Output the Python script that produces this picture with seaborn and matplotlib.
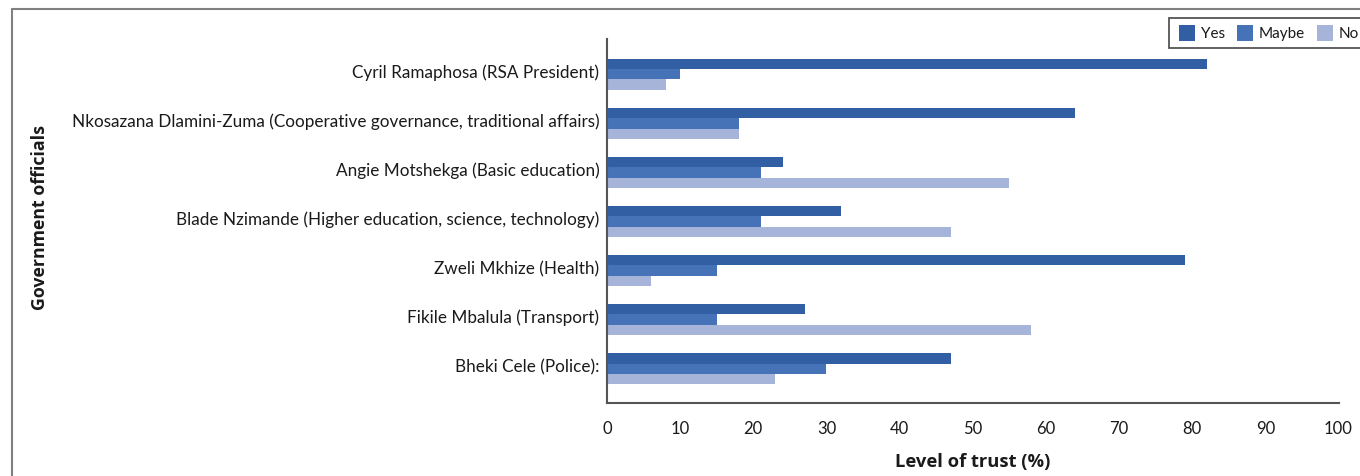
import matplotlib
matplotlib.use("Agg")
import matplotlib.pyplot as plt
from matplotlib.lines import Line2D
from matplotlib.patches import Rectangle
from matplotlib.transforms import ScaledTranslation
import seaborn as sns
import pandas as pd

officials = [
    "Cyril Ramaphosa (RSA President)",
    "Nkosazana Dlamini-Zuma (Cooperative governance, traditional affairs)",
    "Angie Motshekga (Basic education)",
    "Blade Nzimande (Higher education, science, technology)",
    "Zweli Mkhize (Health)",
    "Fikile Mbalula (Transport)",
    "Bheki Cele (Police):",
]
yes_vals = [82, 64, 24, 32, 79, 27, 47]
maybe_vals = [10, 18, 21, 21, 15, 15, 30]
no_vals = [8, 18, 55, 47, 6, 58, 23]
responses = ["Yes", "Maybe", "No"]
colors = ["#325FA3", "#4672B8", "#A6B4D9"]
xticks = list(range(0, 101, 10))

rows = []
for name, y, m, n in zip(officials, yes_vals, maybe_vals, no_vals):
    rows += [(name, "Yes", y), (name, "Maybe", m), (name, "No", n)]
df = pd.DataFrame(rows, columns=["official", "response", "value"])

sns.set_theme(style="white")
plt.rcParams["font.family"] = ["Lato", "DejaVu Sans"]

W, H = 1360, 477
fig = plt.figure(figsize=(W / 100, H / 100), dpi=100)


def fx(px):
    return px / W


def fy(py):
    return 1 - py / H


ax = fig.add_axes([fx(607), fy(404), (1338.5 - 607) / W, (404 - 40) / H])

sns.barplot(data=df, y="official", x="value", hue="response", orient="h",
            hue_order=responses, palette=colors, width=0.63, saturation=1,
            linewidth=0, ax=ax, legend=False)

ax.set_xlim(0, 100)
ax.set_ylim(6.70, -0.72)
ax.set_xticks(xticks)
ax.set_xticklabels([str(t) for t in xticks], fontsize=12, color="#1a1a1a")
ax.tick_params(axis="x", direction="out", length=7, width=1.2, color="#555555", pad=5)
ax.tick_params(axis="y", length=0, labelsize=12.3, pad=5.5)
shift = ScaledTranslation(0, 0.04, fig.dpi_scale_trans)
for lbl in ax.get_yticklabels():
    lbl.set_color("#1a1a1a")
    lbl.set_transform(lbl.get_transform() + shift)

for side in ["top", "right"]:
    ax.spines[side].set_visible(False)
for side in ["left", "bottom"]:
    ax.spines[side].set_color("#555555")
    ax.spines[side].set_linewidth(1.5)

ax.set_ylabel("")
ax.set_xlabel("")
fig.text(fx(973), fy(462), "Level of trust (%)", ha="center", va="center",
         fontsize=13.2, fontweight="bold", family=["Open Sans", "DejaVu Sans"],
         color="#1a1a1a")
fig.text(fx(40), fy(218), "Government officials", ha="center", va="center",
         rotation=90, fontsize=12.8, fontweight="bold",
         family=["Open Sans", "DejaVu Sans"], color="#1a1a1a")

# legend box, running off the right edge of the page
fig.add_artist(Rectangle((fx(1169), fy(49)), fx(1400) - fx(1169), fy(19) - fy(49),
                         transform=fig.transFigure, facecolor="white",
                         edgecolor="#555555", linewidth=1.3))
legend_items = [(1179, 1201), (1237, 1259), (1317, 1339)]
for (sx, tx), lab, col in zip(legend_items, responses, colors):
    fig.add_artist(Rectangle((fx(sx), fy(42)), 16 / W, 16 / H,
                             transform=fig.transFigure, facecolor=col,
                             edgecolor="none"))
    fig.text(fx(tx), fy(34), lab, ha="left", va="center", fontsize=11,
             color="#1a1a1a")

# page border
fig.add_artist(Line2D([fx(12), 1.0], [fy(10), fy(10)],
                      transform=fig.transFigure, color="#808080", linewidth=1.5))
fig.add_artist(Line2D([fx(12), fx(12)], [fy(10), 0.0],
                      transform=fig.transFigure, color="#808080", linewidth=1.5))

fig.savefig("out.png", dpi=100, facecolor="white")
